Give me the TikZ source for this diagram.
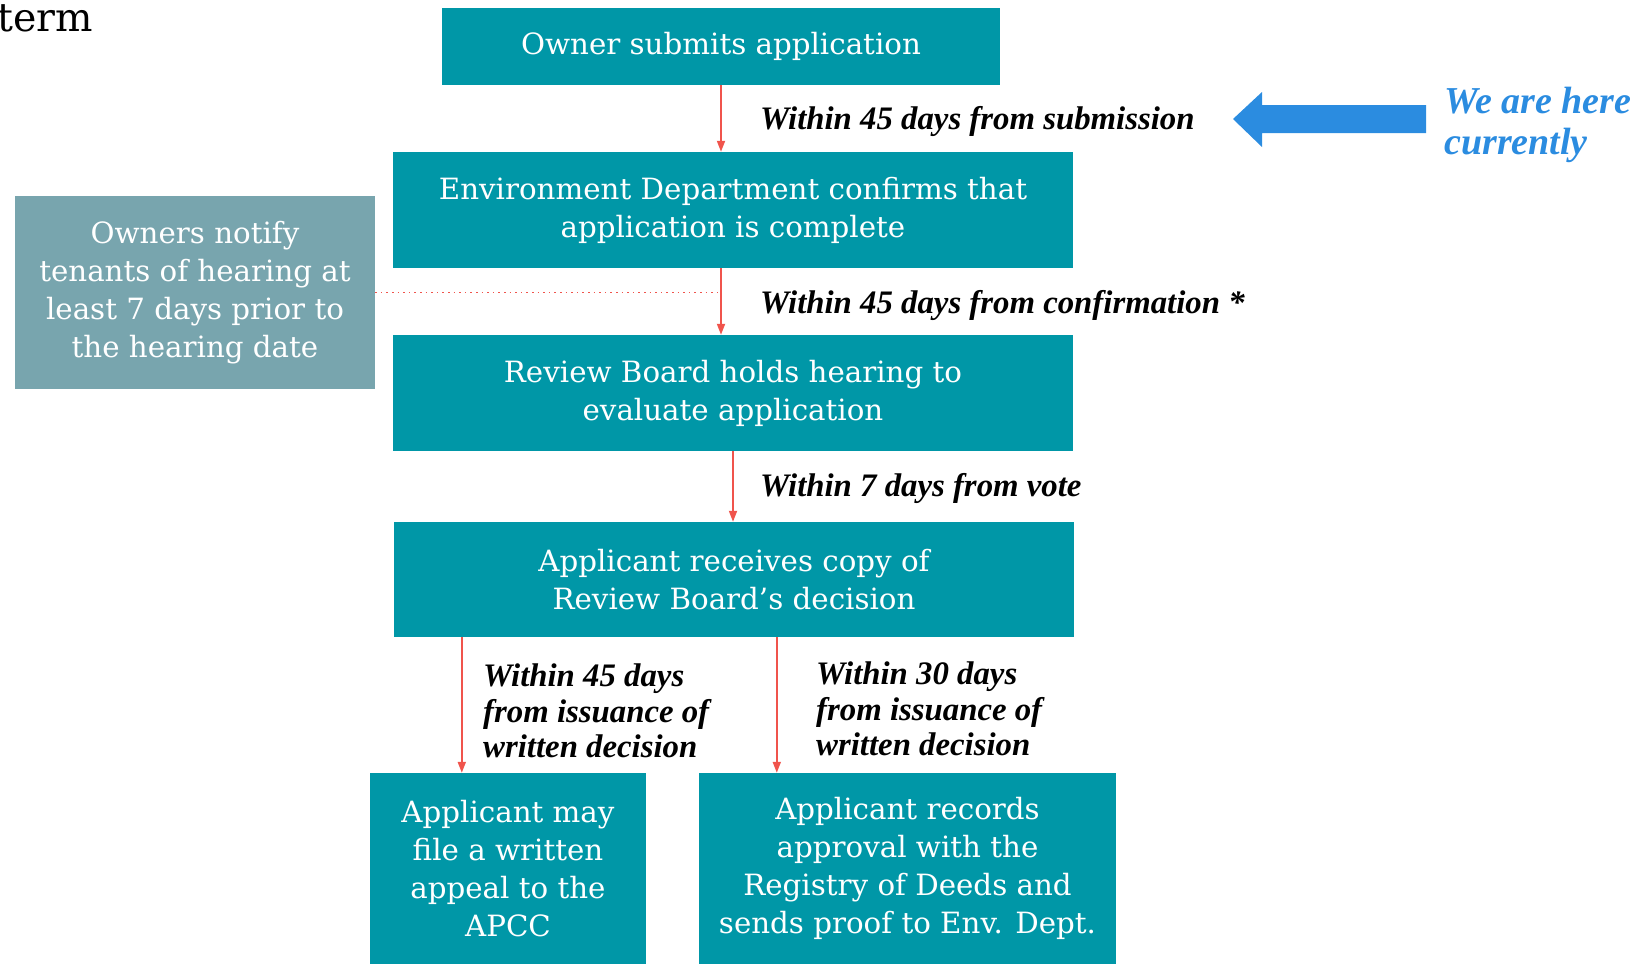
\documentclass[tikz,border=0pt]{standalone}
\usepackage{fontspec}
\setmainfont{DejaVu Serif}
\newfontfamily\labfont{Liberation Serif}
\usetikzlibrary{arrows.meta}
\definecolor{boxteal}{HTML}{0097A7}
\definecolor{sidebox}{HTML}{78A5AE}
\definecolor{arrred}{HTML}{F0544C}
\definecolor{hereblue}{HTML}{2B8CE0}
\begin{document}
\begin{tikzpicture}[x=1pt,y=-1pt,
  box/.style={fill=boxteal, text=white, align=center, inner sep=0pt, font=\fontsize{29.3}{38}\selectfont},
  lab/.style={font=\labfont\bfseries\itshape\fontsize{32.8}{35.5}\selectfont, align=left, anchor=west, inner sep=0pt},
  arr/.style={draw=arrred, line width=1.8pt, -{Triangle[length=11pt,width=8pt]}}]
\useasboundingbox (0,0) rectangle (1646,964);
\node[anchor=base west, inner sep=0pt, font=\fontsize{39.5}{44}\selectfont] (title) at (-3,31) {term};
\node[box, minimum width=558pt, minimum height=77pt] (b1) at (721,46.5) {Owner submits application};
\node[box, minimum width=680pt, minimum height=116pt] (b2) at (733,210) {Environment Department confirms that\\application is complete};
\node[box, minimum width=680pt, minimum height=116pt] (b3) at (733,393) {Review Board holds hearing to\\evaluate application};
\node[box, minimum width=680pt, minimum height=115pt] (b4) at (734,579.5) {Applicant receives copy of\\Review Board’s decision};
\node[box, minimum width=276pt, minimum height=191pt] (b5) at (508,868.5) {Applicant may\\file a written\\appeal to the\\APCC};
\node[box, minimum width=417pt, minimum height=191pt] (b6) at (907.5,868.5) {Applicant records\\approval with the\\Registry of Deeds and\\sends proof to Env. Dept.};
\node[box, fill=sidebox, minimum width=360pt, minimum height=193pt] (side) at (195,292.5) {Owners notify\\tenants of hearing at\\least 7 days prior to\\the hearing date};
\draw[arr] (b1.south) -- (b1.south |- b2.north);
\draw[arr] (b1.south |- b2.south) -- (b1.south |- b3.north);
\draw[arr] (b3.south) -- (b3.south |- b4.north);
\coordinate (l4) at ([xshift=68pt]b4.south west);
\coordinate (r4) at ([xshift=383pt]b4.south west);
\draw[arr] (l4) -- (l4 |- b5.north);
\draw[arr] (r4) -- (r4 |- b6.north);
\draw[arrred, line width=1.6pt, dash pattern=on 1.6pt off 4pt] (side.east) -- (side.east -| b1.south);
\node[lab] (t1) at (760,121) {Within 45 days from submission};
\node[lab] (t2) at (760,305) {Within 45 days from confirmation *};
\node[lab] (t3) at (760,488) {Within 7 days from vote};
\node[lab] (t4) at (483,711) {Within 45 days\\from issuance of\\written decision};
\node[lab] (t5) at (816,709) {Within 30 days\\from issuance of\\written decision};
\fill[hereblue] (1233,119) -- (1262,92) -- (1262,105) -- (1426,105) -- (1426,133) -- (1262,133) -- (1262,147) -- cycle;
\node[lab, text=hereblue, font=\labfont\bfseries\itshape\fontsize{38}{41}\selectfont] (here) at (1444,125) {We are here\\currently};
\end{tikzpicture}
\end{document}
